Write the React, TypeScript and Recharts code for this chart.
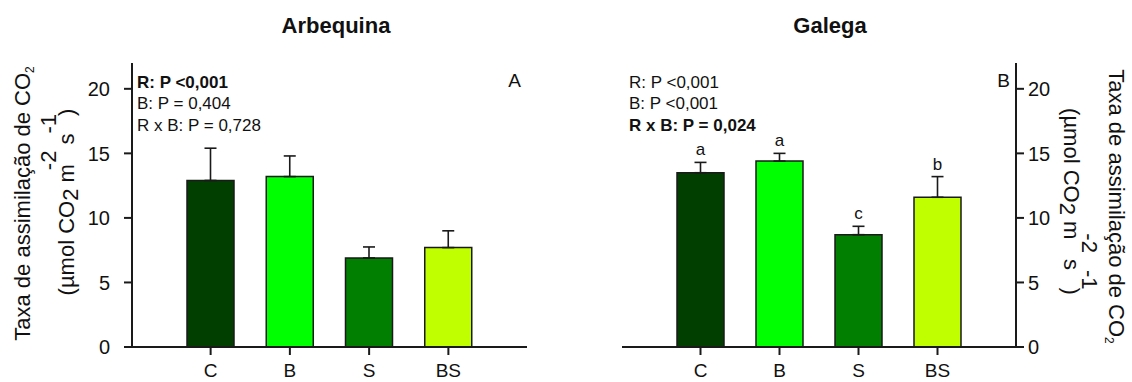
import React from "react"
import { BarChart, Bar, XAxis, YAxis, ErrorBar, Cell, LabelList } from "recharts"

const categories = ["C", "B", "S", "BS"]
const barColors = ["#003f00", "#00ff00", "#007f00", "#bfff00"]

// Arbequina: means and standard errors
const arbequinaMeans = [12.9, 13.2, 6.9, 7.7]
const arbequinaErrors = [2.5, 1.6, 0.85, 1.3]

// Galega: means, standard errors and Tukey letters
const galegaMeans = [13.5, 14.4, 8.7, 11.6]
const galegaErrors = [0.8, 0.6, 0.65, 1.6]
const galegaLetters = ["a", "a", "c", "b"]

const yTicks = [0, 5, 10, 15, 20]

const FONT = "'Liberation Sans', Arial, Helvetica, sans-serif"
const INK = "#111"
const AXIS = { stroke: "#1a1a1a", strokeWidth: 2 }

const buildRows = (means: number[], errors: number[], letters?: string[]) =>
  categories.map((cat, i) => ({
    cat,
    mean: means[i],
    err: [0, errors[i]],
    se: errors[i],
    letter: letters ? letters[i] : ""
  }))

const arbequinaRows = buildRows(arbequinaMeans, arbequinaErrors)
const galegaRows = buildRows(galegaMeans, galegaErrors, galegaLetters)

const XTick = ({ x, payload }: any) => (
  <text x={x} y={377} textAnchor="middle" fontSize={19} fill={INK} fontFamily={FONT}>
    {payload.value}
  </text>
)

const YTick = ({ x, y, payload, side }: any) => (
  <text
    x={x}
    y={y}
    dy="0.36em"
    textAnchor={side === "left" ? "end" : "start"}
    fontSize={20}
    fill={INK}
    fontFamily={FONT}
  >
    {payload.value}
  </text>
)

// letter sits just above the top of the error bar
const makeLetterLabel = (rows: any[]) => (props: any) => {
  const { x, y, width, height, index } = props
  const row = rows[index]
  if (!row || !row.letter) return null
  const perUnit = height / row.mean
  const errTop = y - row.se * perUnit
  return (
    <text x={x + width / 2} y={errTop - 7} textAnchor="middle" fontSize={17} fill={INK} fontFamily={FONT}>
      {row.letter}
    </text>
  )
}

interface PanelProps {
  rows: any[]
  side: "left" | "right"
}

function Panel({ rows, side }: PanelProps) {
  const margin =
    side === "left"
      ? { top: 63, right: 39, bottom: 0, left: 72 }
      : { top: 63, right: 56, bottom: 0, left: 56 }
  const other = side === "left" ? "right" : "left"
  return (
    <BarChart width={566} height={382} data={rows} margin={margin} barSize={47}>
      <XAxis
        dataKey="cat"
        axisLine={AXIS}
        tickLine={AXIS}
        tickSize={8}
        height={35}
        padding={{ left: 39, right: 39 }}
        tick={<XTick />}
        interval={0}
      />
      <XAxis
        xAxisId="frame"
        dataKey="cat"
        orientation="top"
        height={0}
        tick={false}
        tickLine={false}
        axisLine={AXIS}
        padding={{ left: 39, right: 39 }}
      />
      <YAxis
        orientation={side}
        width={60}
        domain={[0, 22]}
        ticks={yTicks}
        axisLine={AXIS}
        tickLine={AXIS}
        tickSize={8}
        tickMargin={side === "left" ? 14 : 4}
        tick={<YTick side={side} />}
        interval={0}
      />
      <YAxis
        yAxisId="frame"
        orientation={other}
        width={0}
        domain={[0, 22]}
        tick={false}
        tickLine={false}
        axisLine={AXIS}
      />
      <Bar dataKey="mean" stroke="#1a1a1a" strokeWidth={1.5} isAnimationActive={false}>
        {rows.map((r, i) => (
          <Cell key={`cell-${r.cat}`} fill={barColors[i]} />
        ))}
        <ErrorBar dataKey="err" direction="y" width={6} stroke="#1a1a1a" strokeWidth={1.6} isAnimationActive={false} />
        <LabelList dataKey="letter" content={makeLetterLabel(rows)} />
      </Bar>
    </BarChart>
  )
}

// y axis title: two rotated lines with sub/superscripts
function AxisTitle({ x1, y1, x2, y2, angle }: any) {
  return (
    <g fontFamily={FONT} fill={INK} fontSize={22}>
      <text transform={`translate(${x1},${y1}) rotate(${angle})`} textAnchor="middle">
        Taxa de assimilação de CO
        <tspan fontSize={12} dy={4}>2</tspan>
      </text>
      <text transform={`translate(${x2},${y2}) rotate(${angle})`} textAnchor="middle">
        (µmol CO
        <tspan dy={4}>2</tspan>
        <tspan dy={-4}> m</tspan>
        <tspan dx={-6} dy={-18}>-2</tspan>
        <tspan dy={18}> s</tspan>
        <tspan dy={-18}>-1</tspan>
        <tspan dx={-2} dy={18}>)</tspan>
      </text>
    </g>
  )
}

function Stats({ x, lines }: { x: number; lines: { text: string; bold: boolean }[] }) {
  return (
    <g fontFamily={FONT} fill={INK} fontSize={17}>
      {lines.map((l, i) => (
        <text key={l.text} x={x} y={87.5 + i * 21.5} fontWeight={l.bold ? "bold" : "normal"}>
          {l.text}
        </text>
      ))}
    </g>
  )
}

export default function App() {
  return (
    <div
      style={{
        position: "absolute",
        left: 0,
        top: 0,
        width: 1132,
        height: 382,
        background: "#fff",
        fontFamily: FONT
      }}
    >
      <div style={{ position: "absolute", left: 0, top: 0 }}>
        <Panel rows={arbequinaRows} side="left" />
      </div>
      <div style={{ position: "absolute", left: 566, top: 0 }}>
        <Panel rows={galegaRows} side="right" />
      </div>
      <svg
        width={1132}
        height={382}
        style={{ position: "absolute", left: 0, top: 0, pointerEvents: "none" }}
      >
        <g fontFamily={FONT} fill={INK} fontWeight="bold" fontSize={22} textAnchor="middle">
          <text x={336} y={33}>Arbequina</text>
          <text x={830} y={33}>Galega</text>
        </g>
        <AxisTitle x1={30} y1={203.5} x2={73.5} y2={202} angle={-90} />
        <AxisTitle x1={1109} y1={206.5} x2={1064} y2={201.5} angle={90} />
        <Stats
          x={137}
          lines={[
            { text: "R: P <0,001", bold: true },
            { text: "B: P = 0,404", bold: false },
            { text: "R x B: P = 0,728", bold: false }
          ]}
        />
        <Stats
          x={629}
          lines={[
            { text: "R: P <0,001", bold: false },
            { text: "B: P <0,001", bold: false },
            { text: "R x B: P = 0,024", bold: true }
          ]}
        />
        <g fontFamily={FONT} fill={INK} fontSize={19} textAnchor="end">
          <text x={521} y={87}>A</text>
          <text x={1010} y={87}>B</text>
        </g>
      </svg>
    </div>
  )
}
